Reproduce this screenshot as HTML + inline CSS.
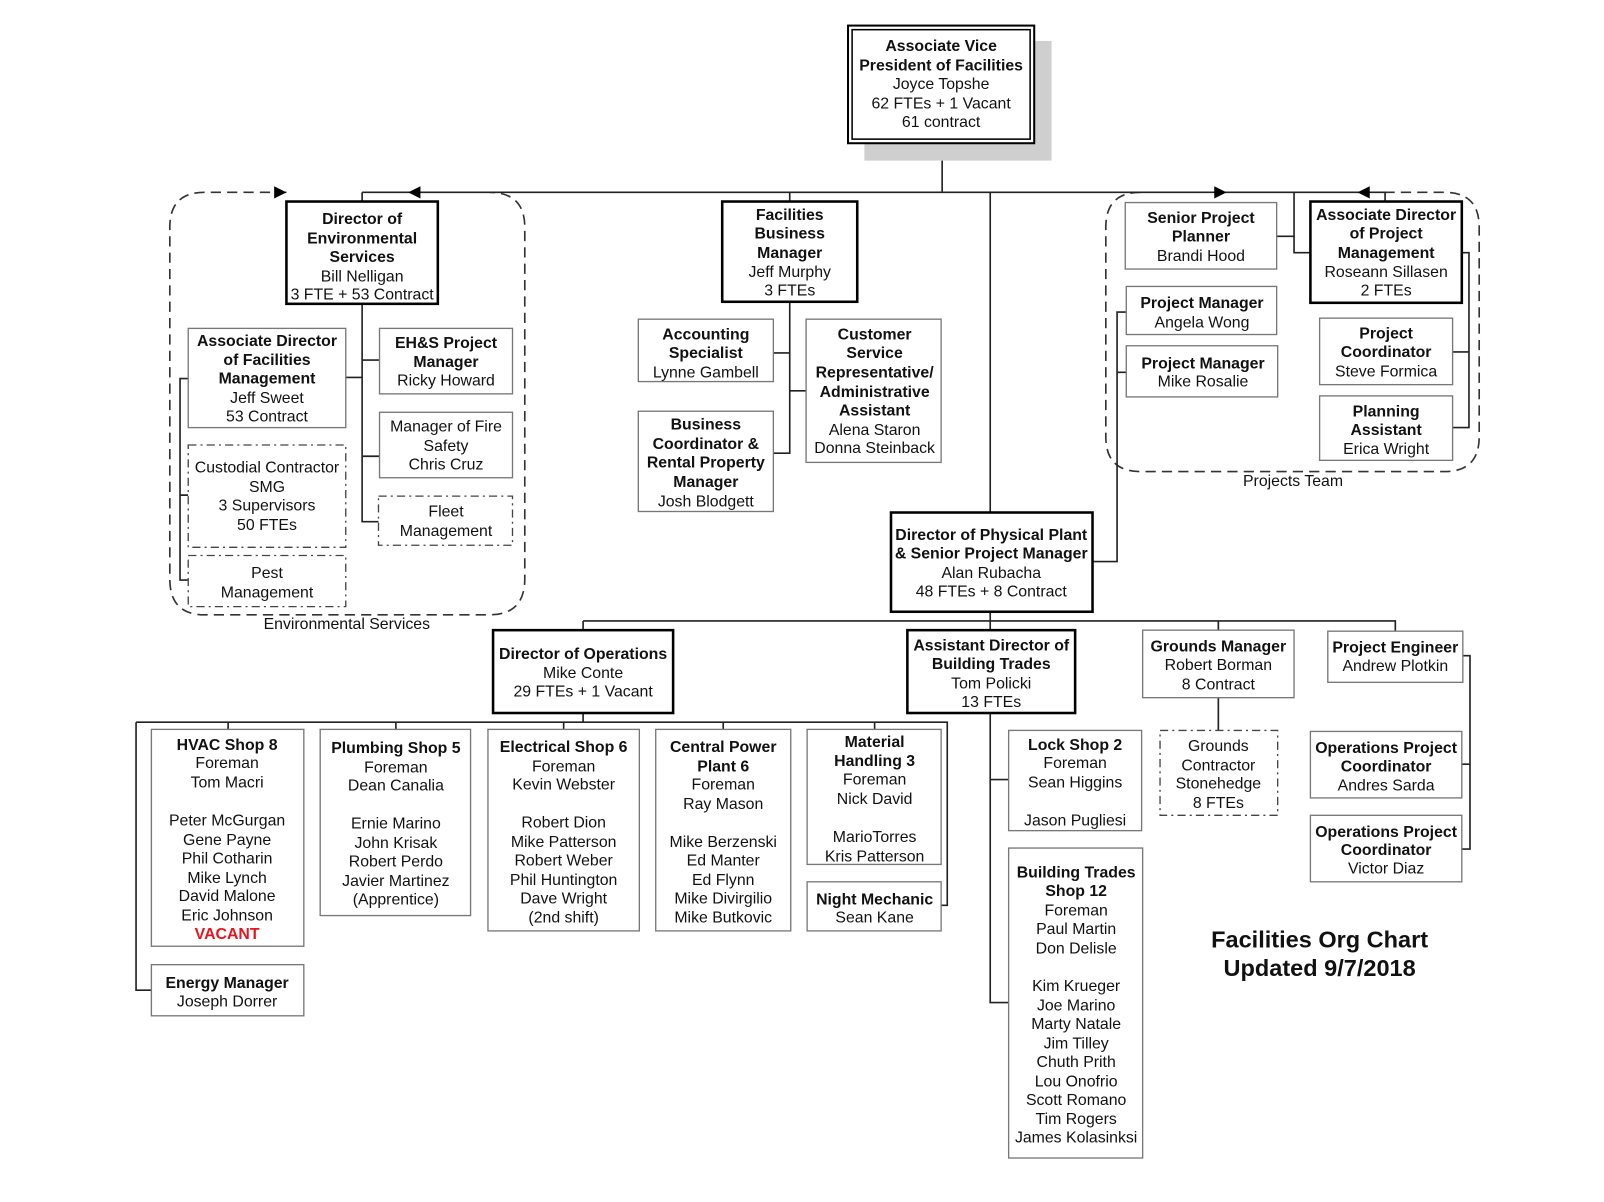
<!DOCTYPE html>
<html><head><meta charset="utf-8"><style>
html,body{margin:0;padding:0;background:#fff}
svg{display:block}
text{font-family:"Liberation Sans",Arial,sans-serif;font-size:15.5px;fill:#111;text-anchor:middle}
.b{font-weight:bold}
.t{stroke:#000;stroke-width:2.5;fill:#fff}
.n{stroke:#777;stroke-width:1.3;fill:#fff}
.d{stroke:#444;stroke-width:1.3;fill:#fff;stroke-dasharray:8 4 2 4}
.l{stroke:#222;stroke-width:1.6;fill:none}
.g{stroke:#333;stroke-width:1.6;fill:none;stroke-dasharray:10 6}
</style></head><body>
<svg width="1604" height="1202" viewBox="0 0 1568 1175" xmlns="http://www.w3.org/2000/svg">
<!-- containers -->
<path class="g" d="M280,188 H200 Q166,188 166,222 V566 Q166,601 200,601 H478 Q513,601 513,566 V222 Q513,188 478,188"/>
<path class="g" d="M1115,188 Q1081,188 1081,222 V427 Q1081,461 1115,461 H1412 Q1446,461 1446,427 V222 Q1446,188 1412,188 H1354"/>
<text x="339" y="615">Environmental Services</text>
<text x="1264" y="475">Projects Team</text>
<!-- connectors -->
<path class="l" d="M921,140 V188 M354,188 H1354 V197 M354,188 V197 M772,188 V197 M968,188 V501 M1265,188 V247 H1281 M1248,231 H1265"/>
<path d="M280,188 l-12,-6 v12z M399,188 l12,-6 v12z M1199,188 l-12,-6 v12z M1327,188 l12,-6 v12z" fill="#000"/>
<path class="l" d="M354,297 V510 H370 M354,352 H371 M338,369 H354 M354,446 H371 M184,370 H176 V567 H184 M176,484 H184"/>
<path class="l" d="M772,295 V443 H756 M756,345 H772 M772,382 H788"/>
<path class="l" d="M1068,549 H1092 V305 H1101 M1092,364 H1101 M1429,247 H1436 V418 H1420 M1420,344 H1436"/>
<path class="l" d="M968,598 V607 M570,607 H1364 V617 M570,607 V616 M968,607 V616 M1191,607 V616 M1191,682 V714"/>
<path class="l" d="M570,697 V706 M133,706 H926 V885 H920 M133,706 V968 H148 M223,706 V713 M387,706 V713 M551,706 V713 M707,706 V713 M855,706 V713"/>
<path class="l" d="M968,697 V980 H986 M968,762 H986 M1430,641 H1437 V830 H1429 M1429,747 H1437"/>
<!-- AVP -->
<rect x="845" y="40" width="183" height="117" fill="#cfcfcf"/>
<rect x="829" y="25" width="182" height="115" fill="#fff" stroke="#000" stroke-width="2"/>
<rect x="833" y="29" width="174" height="107" fill="none" stroke="#000" stroke-width="1.5"/>
<text class="b" x="920" y="50">Associate Vice</text><text class="b" x="920" y="69">President of Facilities</text><text x="920" y="87">Joyce Topshe</text><text x="920" y="106">62 FTEs + 1 Vacant</text><text x="920" y="124">61 contract</text>
<!-- Env -->
<rect class="t" x="280" y="197" width="148" height="100"/>
<text class="b" x="354" y="219">Director of</text><text class="b" x="354" y="238">Environmental</text><text class="b" x="354" y="256">Services</text><text x="354" y="275">Bill Nelligan</text><text x="354" y="293">3 FTE + 53 Contract</text>
<rect class="n" x="184" y="321" width="154" height="97"/>
<text class="b" x="261" y="338">Associate Director</text><text class="b" x="261" y="357">of Facilities</text><text class="b" x="261" y="375">Management</text><text x="261" y="394">Jeff Sweet</text><text x="261" y="412">53 Contract</text>
<rect class="n" x="371" y="321" width="130" height="64"/>
<text class="b" x="436" y="340">EH&amp;S Project</text><text class="b" x="436" y="359">Manager</text><text x="436" y="377">Ricky Howard</text>
<rect class="n" x="371" y="403" width="130" height="64"/>
<text x="436" y="422">Manager of Fire</text><text x="436" y="441">Safety</text><text x="436" y="459">Chris Cruz</text>
<rect class="d" x="370" y="485" width="131" height="48"/>
<text x="436" y="505">Fleet</text><text x="436" y="524">Management</text>
<rect class="d" x="184" y="435" width="154" height="100"/>
<text x="261" y="462">Custodial Contractor</text><text x="261" y="481">SMG</text><text x="261" y="499">3 Supervisors</text><text x="261" y="518">50 FTEs</text>
<rect class="d" x="184" y="543" width="154" height="50"/>
<text x="261" y="565">Pest</text><text x="261" y="584">Management</text>
<!-- FBM -->
<rect class="t" x="706" y="197" width="132" height="98"/>
<text class="b" x="772" y="215">Facilities</text><text class="b" x="772" y="233">Business</text><text class="b" x="772" y="252">Manager</text><text x="772" y="271">Jeff Murphy</text><text x="772" y="289">3 FTEs</text>
<rect class="n" x="624" y="312" width="132" height="61"/>
<text class="b" x="690" y="332">Accounting</text><text class="b" x="690" y="350">Specialist</text><text x="690" y="369">Lynne Gambell</text>
<rect class="n" x="788" y="312" width="132" height="140"/>
<text class="b" x="855" y="332">Customer</text><text class="b" x="855" y="350">Service</text><text class="b" x="855" y="369">Representative/</text><text class="b" x="855" y="388">Administrative</text><text class="b" x="855" y="406">Assistant</text><text x="855" y="425">Alena Staron</text><text x="855" y="443">Donna Steinback</text>
<rect class="n" x="624" y="402" width="132" height="98"/>
<text class="b" x="690" y="420">Business</text><text class="b" x="690" y="439">Coordinator &amp;</text><text class="b" x="690" y="457">Rental Property</text><text class="b" x="690" y="476">Manager</text><text x="690" y="495">Josh Blodgett</text>
<!-- Projects -->
<rect class="n" x="1100" y="198" width="148" height="65"/>
<text class="b" x="1174" y="218">Senior Project</text><text class="b" x="1174" y="236">Planner</text><text x="1174" y="255">Brandi Hood</text>
<rect class="n" x="1101" y="280" width="147" height="47"/>
<text class="b" x="1175" y="301">Project Manager</text><text x="1175" y="320">Angela Wong</text>
<rect class="n" x="1101" y="338" width="148" height="50"/>
<text class="b" x="1176" y="360">Project Manager</text><text x="1176" y="378">Mike Rosalie</text>
<rect class="t" x="1281" y="197" width="148" height="99"/>
<text class="b" x="1355" y="215">Associate Director</text><text class="b" x="1355" y="233">of Project</text><text class="b" x="1355" y="252">Management</text><text x="1355" y="271">Roseann Sillasen</text><text x="1355" y="289">2 FTEs</text>
<rect class="n" x="1290" y="311" width="130" height="65"/>
<text class="b" x="1355" y="331">Project</text><text class="b" x="1355" y="349">Coordinator</text><text x="1355" y="368">Steve Formica</text>
<rect class="n" x="1290" y="387" width="130" height="63"/>
<text class="b" x="1355" y="407">Planning</text><text class="b" x="1355" y="425">Assistant</text><text x="1355" y="444">Erica Wright</text>
<!-- Physical plant -->
<rect class="t" x="871" y="501" width="197" height="97"/>
<text class="b" x="969" y="528">Director of Physical Plant</text><text class="b" x="969" y="546">&amp; Senior Project Manager</text><text x="969" y="565">Alan Rubacha</text><text x="969" y="583">48 FTEs + 8 Contract</text>
<rect class="t" x="482" y="616" width="176" height="81"/>
<text class="b" x="570" y="644">Director of Operations</text><text x="570" y="663">Mike Conte</text><text x="570" y="681">29 FTEs + 1 Vacant</text>
<rect class="t" x="887" y="616" width="164" height="81"/>
<text class="b" x="969" y="636">Assistant Director of</text><text class="b" x="969" y="654">Building Trades</text><text x="969" y="673">Tom Policki</text><text x="969" y="691">13 FTEs</text>
<rect class="n" x="1117" y="616" width="148" height="66"/>
<text class="b" x="1191" y="637">Grounds Manager</text><text x="1191" y="655">Robert Borman</text><text x="1191" y="674">8 Contract</text>
<rect class="d" x="1134" y="714" width="115" height="83"/>
<text x="1191" y="734">Grounds</text><text x="1191" y="753">Contractor</text><text x="1191" y="771">Stonehedge</text><text x="1191" y="790">8 FTEs</text>
<rect class="n" x="1298" y="617" width="132" height="50"/>
<text class="b" x="1364" y="638">Project Engineer</text><text x="1364" y="656">Andrew Plotkin</text>
<rect class="n" x="1281" y="715" width="148" height="65"/>
<text class="b" x="1355" y="736">Operations Project</text><text class="b" x="1355" y="754">Coordinator</text><text x="1355" y="773">Andres Sarda</text>
<rect class="n" x="1281" y="797" width="148" height="65"/>
<text class="b" x="1355" y="818">Operations Project</text><text class="b" x="1355" y="836">Coordinator</text><text x="1355" y="854">Victor Diaz</text>
<!-- Shops -->
<rect class="n" x="148" y="713" width="149" height="212"/>
<text class="b" x="222" y="733">HVAC Shop 8</text><text x="222" y="751">Foreman</text><text x="222" y="770">Tom Macri</text><text x="222" y="807">Peter McGurgan</text><text x="222" y="826">Gene Payne</text><text x="222" y="844">Phil Cotharin</text><text x="222" y="863">Mike Lynch</text><text x="222" y="881">David Malone</text><text x="222" y="900">Eric Johnson</text><text class="b" x="222" y="918" style="fill:#e8141c">VACANT</text>
<rect class="n" x="148" y="943" width="149" height="50"/>
<text class="b" x="222" y="966">Energy Manager</text><text x="222" y="984">Joseph Dorrer</text>
<rect class="n" x="313" y="713" width="147" height="182"/>
<text class="b" x="387" y="736">Plumbing Shop 5</text><text x="387" y="755">Foreman</text><text x="387" y="773">Dean Canalia</text><text x="387" y="810">Ernie Marino</text><text x="387" y="829">John Krisak</text><text x="387" y="847">Robert Perdo</text><text x="387" y="866">Javier Martinez</text><text x="387" y="884">(Apprentice)</text>
<rect class="n" x="477" y="713" width="148" height="197"/>
<text class="b" x="551" y="735">Electrical Shop 6</text><text x="551" y="754">Foreman</text><text x="551" y="772">Kevin Webster</text><text x="551" y="809">Robert Dion</text><text x="551" y="828">Mike Patterson</text><text x="551" y="846">Robert Weber</text><text x="551" y="865">Phil Huntington</text><text x="551" y="883">Dave Wright</text><text x="551" y="902">(2nd shift)</text>
<rect class="n" x="641" y="713" width="132" height="197"/>
<text class="b" x="707" y="735">Central Power</text><text class="b" x="707" y="754">Plant 6</text><text x="707" y="772">Foreman</text><text x="707" y="791">Ray Mason</text><text x="707" y="828">Mike Berzenski</text><text x="707" y="846">Ed Manter</text><text x="707" y="865">Ed Flynn</text><text x="707" y="883">Mike Divirgilio</text><text x="707" y="902">Mike Butkovic</text>
<rect class="n" x="789" y="713" width="131" height="132"/>
<text class="b" x="855" y="730">Material</text><text class="b" x="855" y="749">Handling 3</text><text x="855" y="767">Foreman</text><text x="855" y="786">Nick David</text><text x="855" y="823">MarioTorres</text><text x="855" y="842">Kris Patterson</text>
<rect class="n" x="789" y="862" width="131" height="48"/>
<text class="b" x="855" y="884">Night Mechanic</text><text x="855" y="902">Sean Kane</text>
<rect class="n" x="986" y="714" width="130" height="98"/>
<text class="b" x="1051" y="733">Lock Shop 2</text><text x="1051" y="751">Foreman</text><text x="1051" y="770">Sean Higgins</text><text x="1051" y="807">Jason Pugliesi</text>
<rect class="n" x="986" y="829" width="131" height="303"/>
<text class="b" x="1052" y="858">Building Trades</text><text class="b" x="1052" y="876">Shop 12</text><text x="1052" y="895">Foreman</text><text x="1052" y="913">Paul Martin</text><text x="1052" y="932">Don Delisle</text><text x="1052" y="969">Kim Krueger</text><text x="1052" y="988">Joe Marino</text><text x="1052" y="1006">Marty Natale</text><text x="1052" y="1025">Jim Tilley</text><text x="1052" y="1043">Chuth Prith</text><text x="1052" y="1062">Lou Onofrio</text><text x="1052" y="1080">Scott Romano</text><text x="1052" y="1099">Tim Rogers</text><text x="1052" y="1117">James Kolasinksi</text>
<!-- title -->
<text class="b" x="1290" y="926" style="font-size:23px">Facilities Org Chart</text>
<text class="b" x="1290" y="954" style="font-size:23px">Updated 9/7/2018</text>
</svg>
</body></html>
